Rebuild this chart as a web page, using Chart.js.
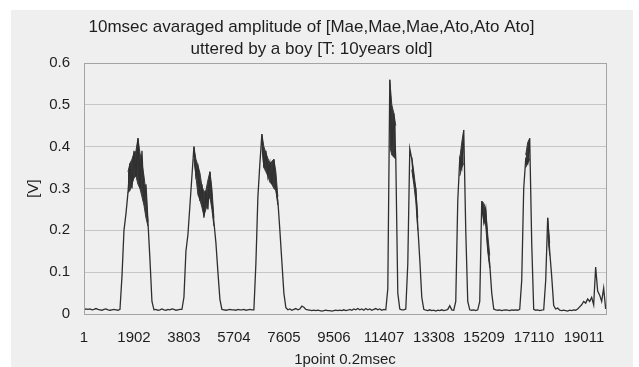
<!DOCTYPE html>
<html>
<head>
<meta charset="utf-8">
<script src="https://cdn.jsdelivr.net/npm/chart.js@4.4.0/dist/chart.umd.min.js"></script>
<style>
  html, body { margin: 0; padding: 0; background: #ffffff; }
  #wrap { width: 639px; height: 367px; }
</style>
</head>
<body>
<div id="wrap"><canvas id="c" width="639" height="367"></canvas></div>
<script>
// ---- data ----
const titleLines = ['10msec avaraged amplitude of [Mae,Mae,Mae,Ato,Ato Ato]', 'uttered by a boy [T: 10years old]'];
const xAxisTitle = '1point 0.2msec';
const yAxisTitle = '[V]';
const xTickLabels = [1, 1902, 3803, 5704, 7605, 9506, 11407, 13308, 15209, 17110, 19011];
const yTickLabels = ['0', '0.1', '0.2', '0.3', '0.4', '0.5', '0.6'];
const sampleStep = 76;      // one value read every 76 samples
const firstSample = 1;
const lastSample = 19850;
const amplitude = [
  // silence
  0.010, 0.012, 0.011, 0.012, 0.010, 0.011, 0.013, 0.011, 0.010, 0.009, 0.011, 0.012, 0.010, 0.009, 0.010, 0.011, 0.010, 0.009, 0.011,
  // Mae 1
  0.09, 0.20, 0.24, 0.29, 0.36, 0.30, 0.39, 0.33, 0.42, 0.30, 0.39, 0.27, 0.31, 0.22, 0.13, 0.03,
  0.010, 0.011, 0.009, 0.010, 0.012, 0.010, 0.009, 0.011, 0.010, 0.012, 0.011, 0.009, 0.010, 0.011, 0.011,
  // Mae 2
  0.04, 0.15, 0.19, 0.26, 0.33, 0.40, 0.33, 0.35, 0.27, 0.31, 0.23, 0.29, 0.25, 0.34, 0.27, 0.22, 0.17, 0.10, 0.035,
  0.011, 0.010, 0.009, 0.010, 0.011, 0.010, 0.010, 0.009, 0.011, 0.010, 0.010, 0.011, 0.009, 0.010, 0.011, 0.010, 0.010,
  // Mae 3
  0.12, 0.28, 0.36, 0.43, 0.35, 0.39, 0.33, 0.36, 0.31, 0.37, 0.30, 0.27, 0.20, 0.125, 0.05, 0.015,
  0.010, 0.012, 0.009, 0.011, 0.013, 0.010, 0.012, 0.019, 0.016, 0.011,
  0.010, 0.009, 0.008, 0.009, 0.008, 0.009, 0.008, 0.007, 0.008, 0.009,
  0.008, 0.008, 0.007, 0.008, 0.009, 0.008, 0.009, 0.008, 0.010, 0.008,
  0.009, 0.011, 0.009, 0.012, 0.010, 0.013, 0.010, 0.012, 0.009, 0.013,
  0.010, 0.012, 0.009, 0.011, 0.013, 0.010, 0.012, 0.009, 0.011, 0.010,
  // Ato 1 (a / to)
  0.06, 0.56, 0.40, 0.48, 0.37, 0.05,
  0.012, 0.010, 0.010, 0.012,
  0.12, 0.395, 0.37, 0.32, 0.30, 0.21, 0.13, 0.04,
  0.011, 0.009, 0.008, 0.010, 0.008, 0.009, 0.007, 0.009, 0.008, 0.010, 0.008, 0.009, 0.011, 0.020, 0.010, 0.009,
  // Ato 2
  0.03, 0.27, 0.37, 0.35, 0.44, 0.20, 0.03,
  0.010, 0.009, 0.010, 0.008, 0.010,
  0.03, 0.27, 0.22, 0.25, 0.16, 0.12, 0.05,
  0.012, 0.010, 0.009, 0.010, 0.008, 0.009, 0.010, 0.009, 0.008, 0.010, 0.009, 0.010, 0.009, 0.011,
  // Ato 3
  0.08, 0.30, 0.37, 0.36, 0.42, 0.17,
  0.011, 0.009, 0.010, 0.008, 0.009, 0.010,
  0.08, 0.23, 0.15, 0.09, 0.02, 0.012,
  0.014, 0.009, 0.008, 0.009, 0.008, 0.007, 0.009, 0.008, 0.010, 0.009,
  0.012, 0.017, 0.022, 0.030, 0.026, 0.036, 0.030, 0.040, 0.022, 0.112,
  0.055, 0.045, 0.030, 0.062, 0.012
];
// noisy (dense) parts of the trace: upper / lower edge of the dark band,
// starting at value position `from` of the amplitude list
const bandFrom  = [22, 55, 89, 153, 164, 188, 199, 221, 232];
const bandUpper = [
  [0.34, 0.36, 0.37, 0.385, 0.39, 0.42, 0.385, 0.36, 0.33, 0.29, 0.22],
  [0.40, 0.37, 0.355, 0.337, 0.305, 0.293, 0.295, 0.32, 0.34, 0.30, 0.23],
  [0.43, 0.40, 0.385, 0.372, 0.36, 0.365, 0.37, 0.34, 0.28],
  [0.56, 0.50, 0.48, 0.45],
  [0.375, 0.34, 0.30, 0.23],
  [0.37, 0.41, 0.44],
  [0.27, 0.265, 0.25, 0.19, 0.14],
  [0.38, 0.41, 0.42],
  [0.23, 0.17]
];
const bandLower = [
  [0.29, 0.295, 0.31, 0.325, 0.33, 0.31, 0.30, 0.28, 0.26, 0.23, 0.21],
  [0.37, 0.33, 0.285, 0.273, 0.255, 0.235, 0.25, 0.27, 0.28, 0.25, 0.21],
  [0.40, 0.35, 0.34, 0.33, 0.315, 0.31, 0.30, 0.295, 0.26],
  [0.40, 0.38, 0.375, 0.37],
  [0.345, 0.31, 0.27, 0.20],
  [0.33, 0.35, 0.36],
  [0.25, 0.225, 0.21, 0.15, 0.11],
  [0.35, 0.36, 0.37],
  [0.19, 0.14]
];

// ---- build chart ----
const xOf = (k) => firstSample + k * sampleStep;
const points = amplitude.map((v, k) => ({ x: xOf(k), y: v }));
const upperPts = amplitude.map((v, k) => ({ x: xOf(k), y: null }));
const lowerPts = amplitude.map((v, k) => ({ x: xOf(k), y: null }));
bandFrom.forEach((from, b) => {
  bandUpper[b].forEach((v, j) => { upperPts[from + j].y = v; });
  bandLower[b].forEach((v, j) => { lowerPts[from + j].y = v; });
});

const FONT = "'Liberation Sans', Arial, sans-serif";
const TXT = '#1e1e1e';
const LINE = '#2f2f2f';

const bgPlugin = {
  id: 'bg',
  beforeDraw(chart) {
    const ctx = chart.ctx;
    ctx.save();
    ctx.fillStyle = '#ffffff';
    ctx.fillRect(0, 0, chart.width, chart.height);
    ctx.fillStyle = '#efefef';
    ctx.fillRect(11, 10, 622, 357);
    ctx.restore();
  },
  afterDatasetsDraw(chart) {
    const a = chart.chartArea, ctx = chart.ctx;
    ctx.save();
    ctx.strokeStyle = '#a4a4a4';
    ctx.lineWidth = 1;
    ctx.strokeRect(Math.round(a.left) + 0.5, Math.round(a.top) + 0.5, Math.round(a.right - a.left), Math.round(a.bottom - a.top));
    ctx.restore();
  }
};

new Chart(document.getElementById('c'), {
  type: 'line',
  data: {
    datasets: [
      { data: points, borderColor: LINE, borderWidth: 1.3, pointRadius: 0, tension: 0, fill: false },
      { data: upperPts, borderColor: '#383838', borderWidth: 1, pointRadius: 0, tension: 0, fill: false, spanGaps: false },
      { data: lowerPts, borderColor: '#383838', borderWidth: 1, pointRadius: 0, tension: 0, fill: '-1',
        backgroundColor: '#383838', spanGaps: false }
    ]
  },
  options: {
    responsive: false,
    animation: false,
    devicePixelRatio: 1,
    layout: { padding: { left: 17, right: 33, top: 0, bottom: 0 } },
    plugins: {
      legend: { display: false },
      tooltip: { enabled: false },
      title: {
        display: true,
        text: titleLines,
        color: TXT,
        font: { family: FONT, size: 17, weight: 'normal', lineHeight: 1.3 },
        padding: { top: 16, bottom: 2.8 }
      }
    },
    scales: {
      x: {
        type: 'linear',
        min: firstSample,
        max: lastSample,
        afterBuildTicks(scale) { scale.ticks = xTickLabels.map(v => ({ value: v })); },
        afterFit(scale) { scale.height = 53; },
        grid: { display: false },
        border: { display: false },
        ticks: {
          autoSkip: false,
          maxRotation: 0,
          padding: 7,
          color: TXT,
          font: { family: FONT, size: 15 },
          callback: (v) => String(v)
        },
        title: {
          display: true,
          text: xAxisTitle,
          color: TXT,
          font: { family: FONT, size: 15, lineHeight: 1.0 },
          padding: { top: 0, bottom: 0 }
        }
      },
      y: {
        min: 0,
        max: 0.6,
        afterFit(scale) { scale.width = 67; },
        ticks: {
          stepSize: 0.1,
          padding: 14,
          color: TXT,
          font: { family: FONT, size: 15 },
          callback: (v, i) => yTickLabels[i]
        },
        grid: { color: '#c6c6c6', lineWidth: 1, drawTicks: false },
        border: { display: false },
        title: {
          display: true,
          text: yAxisTitle,
          color: TXT,
          font: { family: FONT, size: 15, lineHeight: 1.2 },
          padding: { top: 8, bottom: 0 }
        }
      }
    }
  },
  plugins: [bgPlugin]
});
</script>
</body>
</html>
